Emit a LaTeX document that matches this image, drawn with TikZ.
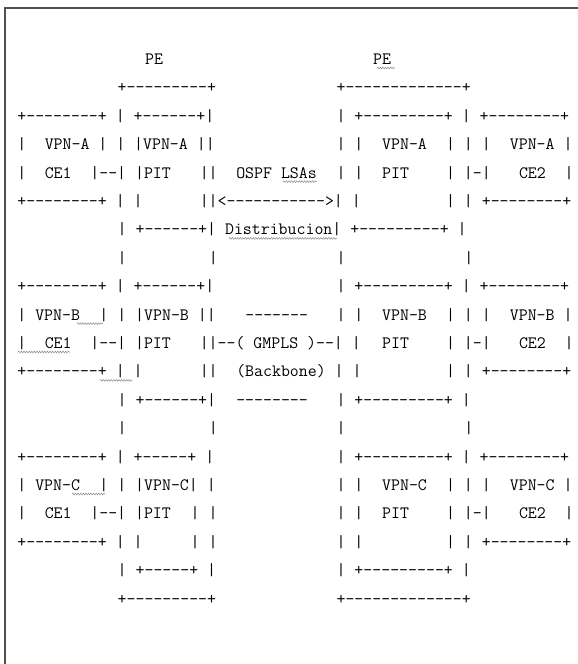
\documentclass[tikz,border=0pt]{standalone}
\usepackage{fontspec}
\usepackage{tikz}
\usetikzlibrary{decorations.pathmorphing}
\definecolor{framegray}{HTML}{505050}
\definecolor{spellgray}{HTML}{8C8C8C}

\newcommand{\pitch}{9.12}
\newcommand{\colzero}{17.4}
\newcommand{\rowzero}{64.5}
\newcommand{\rowgap}{28.4}
\newcommand{\asciifont}{\fontsize{17.37}{20}\selectfont\ttfamily}

\tikzset{
  asc/.style={anchor=base west, inner sep=0pt, outer sep=0pt, font=\asciifont},
  spell/.style={spellgray, line width=0.5pt, decorate,
    decoration={snake, amplitude=0.9pt, segment length=2.6pt}}
}

% one run of characters: row #1, column #2
\newcommand{\asciirun}[3]{\node[asc] (r#1c#2) at ({\colzero+#2*\pitch},{\rowzero+(#1-1)*\rowgap}) {#3};}
% spelling mark under row #1, from x #2 to x #3
\newcommand{\spellmark}[3]{\draw[spell] (#2,{\rowzero+(#1-1)*\rowgap+3.5}) -- (#3,{\rowzero+(#1-1)*\rowgap+3.5});}

\begin{document}
\begin{tikzpicture}[x=1pt, y=-1pt]
  \useasboundingbox (0,0) rectangle (578,664);
  \draw[framegray, line width=2pt] (5,664) -- (5,8) -- (578,8);

  % PE titles and tops
  \asciirun{1}{14}{PE}
  \asciirun{1}{39}{PE}
  \asciirun{2}{11}{+---------+}
  \asciirun{2}{35}{+-------------+}

  % VPN-A
  \asciirun{3}{0}{+--------+ | +------+|}
  \asciirun{3}{35}{| +---------+ | +--------+}
  \asciirun{4}{0}{|}
  \asciirun{4}{3}{VPN-A | | |VPN-A ||}
  \asciirun{4}{35}{| |}
  \asciirun{4}{40}{VPN-A}
  \asciirun{4}{47}{| | |}
  \asciirun{4}{54}{VPN-A |}
  \asciirun{5}{0}{|}
  \asciirun{5}{3}{CE1}
  \asciirun{5}{8}{|--| |PIT}
  \asciirun{5}{20}{||}
  \asciirun{5}{24}{OSPF LSAs}
  \asciirun{5}{35}{| |}
  \asciirun{5}{40}{PIT}
  \asciirun{5}{47}{| |-|}
  \asciirun{5}{55}{CE2}
  \asciirun{5}{60}{|}
  \asciirun{6}{0}{+--------+ | |}
  \asciirun{6}{20}{||<----------->| |}
  \asciirun{6}{47}{| | +--------+}
  \asciirun{7}{11}{| +------+| Distribucion| +---------+ |}
  \asciirun{8}{11}{|}
  \asciirun{8}{21}{|}
  \asciirun{8}{35}{|}
  \asciirun{8}{49}{|}

  % VPN-B
  \asciirun{9}{0}{+--------+ | +------+|}
  \asciirun{9}{35}{| +---------+ | +--------+}
  \asciirun{10}{0}{| VPN-B}
  \asciirun{10}{9}{| | |VPN-B ||}
  \asciirun{10}{25}{-------}
  \asciirun{10}{35}{| |}
  \asciirun{10}{40}{VPN-B}
  \asciirun{10}{47}{| | |}
  \asciirun{10}{54}{VPN-B |}
  \asciirun{11}{0}{|}
  \asciirun{11}{3}{CE1}
  \asciirun{11}{8}{|--| |PIT}
  \asciirun{11}{20}{||--( GMPLS )--| |}
  \asciirun{11}{40}{PIT}
  \asciirun{11}{47}{| |-|}
  \asciirun{11}{55}{CE2}
  \asciirun{11}{60}{|}
  \asciirun{12}{0}{+--------+ | |}
  \asciirun{12}{20}{||}
  \asciirun{12}{24}{(Backbone) | |}
  \asciirun{12}{47}{| | +--------+}
  \asciirun{13}{11}{| +------+|}
  \asciirun{13}{24}{--------}
  \asciirun{13}{35}{| +---------+ |}
  \asciirun{14}{11}{|}
  \asciirun{14}{21}{|}
  \asciirun{14}{35}{|}
  \asciirun{14}{49}{|}

  % VPN-C
  \asciirun{15}{0}{+--------+ | +-----+ |}
  \asciirun{15}{35}{| +---------+ | +--------+}
  \asciirun{16}{0}{| VPN-C}
  \asciirun{16}{9}{| | |VPN-C| |}
  \asciirun{16}{35}{| |}
  \asciirun{16}{40}{VPN-C}
  \asciirun{16}{47}{| | |}
  \asciirun{16}{54}{VPN-C |}
  \asciirun{17}{0}{|}
  \asciirun{17}{3}{CE1}
  \asciirun{17}{8}{|--| |PIT}
  \asciirun{17}{19}{| |}
  \asciirun{17}{35}{| |}
  \asciirun{17}{40}{PIT}
  \asciirun{17}{47}{| |-|}
  \asciirun{17}{55}{CE2}
  \asciirun{17}{60}{|}
  \asciirun{18}{0}{+--------+ | |}
  \asciirun{18}{19}{| |}
  \asciirun{18}{35}{| |}
  \asciirun{18}{47}{| | +--------+}
  \asciirun{19}{11}{| +-----+ |}
  \asciirun{19}{35}{| +---------+ |}
  \asciirun{20}{11}{+---------+}
  \asciirun{20}{35}{+-------------+}

  % spelling marks
  \spellmark{1}{377}{395}
  \spellmark{5}{283}{317}
  \spellmark{7}{229}{337}
  \spellmark{10}{77}{103}
  \spellmark{11}{18}{70}
  \spellmark{12}{100}{132}
  \spellmark{16}{72}{105}
\end{tikzpicture}
\end{document}
